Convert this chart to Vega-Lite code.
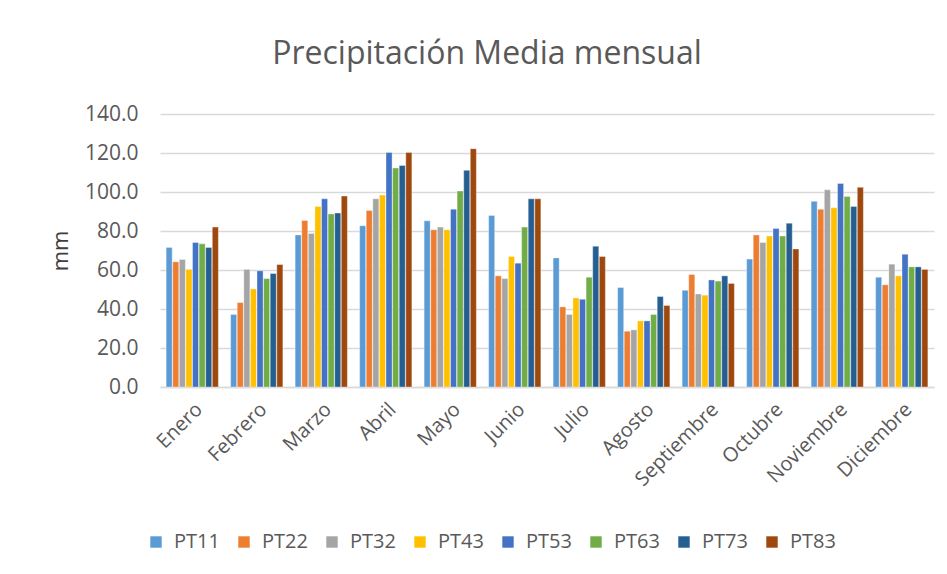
{
  "$schema": "https://vega.github.io/schema/vega-lite/v6.json",
  "width": 774,
  "height": 273,
  "autosize": {"type": "none"},
  "padding": {"left": 160, "top": 114, "right": 13, "bottom": 187},
  "background": "white",
  "config": {
    "font": "Open Sans",
    "view": {"stroke": null},
    "axis": {"labelColor": "#595959", "titleColor": "#595959", "labelFont": "Open Sans", "titleFont": "Open Sans"}
  },
  "title": {
    "text": "Precipitación Media mensual",
    "fontSize": 32,
    "font": "Open Sans",
    "fontWeight": "normal",
    "color": "#595959",
    "anchor": "middle",
    "dx": -60,
    "offset": 32
  },
  "data": {
    "values": [
      {"mes": "Enero", "estacion": "PT11", "valor": 71.6},
      {"mes": "Enero", "estacion": "PT22", "valor": 64.2},
      {"mes": "Enero", "estacion": "PT32", "valor": 65.4},
      {"mes": "Enero", "estacion": "PT43", "valor": 60.3},
      {"mes": "Enero", "estacion": "PT53", "valor": 74.1},
      {"mes": "Enero", "estacion": "PT63", "valor": 73.4},
      {"mes": "Enero", "estacion": "PT73", "valor": 71.6},
      {"mes": "Enero", "estacion": "PT83", "valor": 82.0},
      {"mes": "Febrero", "estacion": "PT11", "valor": 37.2},
      {"mes": "Febrero", "estacion": "PT22", "valor": 43.3},
      {"mes": "Febrero", "estacion": "PT32", "valor": 60.3},
      {"mes": "Febrero", "estacion": "PT43", "valor": 50.3},
      {"mes": "Febrero", "estacion": "PT53", "valor": 59.6},
      {"mes": "Febrero", "estacion": "PT63", "valor": 55.6},
      {"mes": "Febrero", "estacion": "PT73", "valor": 58.2},
      {"mes": "Febrero", "estacion": "PT83", "valor": 62.8},
      {"mes": "Marzo", "estacion": "PT11", "valor": 78.0},
      {"mes": "Marzo", "estacion": "PT22", "valor": 85.4},
      {"mes": "Marzo", "estacion": "PT32", "valor": 78.7},
      {"mes": "Marzo", "estacion": "PT43", "valor": 92.6},
      {"mes": "Marzo", "estacion": "PT53", "valor": 96.5},
      {"mes": "Marzo", "estacion": "PT63", "valor": 88.7},
      {"mes": "Marzo", "estacion": "PT73", "valor": 89.2},
      {"mes": "Marzo", "estacion": "PT83", "valor": 97.9},
      {"mes": "Abril", "estacion": "PT11", "valor": 82.7},
      {"mes": "Abril", "estacion": "PT22", "valor": 90.5},
      {"mes": "Abril", "estacion": "PT32", "valor": 96.5},
      {"mes": "Abril", "estacion": "PT43", "valor": 98.4},
      {"mes": "Abril", "estacion": "PT53", "valor": 120.3},
      {"mes": "Abril", "estacion": "PT63", "valor": 112.3},
      {"mes": "Abril", "estacion": "PT73", "valor": 113.6},
      {"mes": "Abril", "estacion": "PT83", "valor": 120.3},
      {"mes": "Mayo", "estacion": "PT11", "valor": 85.2},
      {"mes": "Mayo", "estacion": "PT22", "valor": 80.6},
      {"mes": "Mayo", "estacion": "PT32", "valor": 82.0},
      {"mes": "Mayo", "estacion": "PT43", "valor": 80.6},
      {"mes": "Mayo", "estacion": "PT53", "valor": 91.2},
      {"mes": "Mayo", "estacion": "PT63", "valor": 100.5},
      {"mes": "Mayo", "estacion": "PT73", "valor": 111.1},
      {"mes": "Mayo", "estacion": "PT83", "valor": 122.2},
      {"mes": "Junio", "estacion": "PT11", "valor": 88.0},
      {"mes": "Junio", "estacion": "PT22", "valor": 57.0},
      {"mes": "Junio", "estacion": "PT32", "valor": 55.6},
      {"mes": "Junio", "estacion": "PT43", "valor": 66.9},
      {"mes": "Junio", "estacion": "PT53", "valor": 63.5},
      {"mes": "Junio", "estacion": "PT63", "valor": 82.0},
      {"mes": "Junio", "estacion": "PT73", "valor": 96.5},
      {"mes": "Junio", "estacion": "PT83", "valor": 96.5},
      {"mes": "Julio", "estacion": "PT11", "valor": 66.2},
      {"mes": "Julio", "estacion": "PT22", "valor": 41.1},
      {"mes": "Julio", "estacion": "PT32", "valor": 37.2},
      {"mes": "Julio", "estacion": "PT43", "valor": 45.7},
      {"mes": "Julio", "estacion": "PT53", "valor": 45.0},
      {"mes": "Julio", "estacion": "PT63", "valor": 56.3},
      {"mes": "Julio", "estacion": "PT73", "valor": 72.2},
      {"mes": "Julio", "estacion": "PT83", "valor": 66.9},
      {"mes": "Agosto", "estacion": "PT11", "valor": 51.0},
      {"mes": "Agosto", "estacion": "PT22", "valor": 28.6},
      {"mes": "Agosto", "estacion": "PT32", "valor": 29.3},
      {"mes": "Agosto", "estacion": "PT43", "valor": 33.9},
      {"mes": "Agosto", "estacion": "PT53", "valor": 33.9},
      {"mes": "Agosto", "estacion": "PT63", "valor": 37.2},
      {"mes": "Agosto", "estacion": "PT73", "valor": 46.4},
      {"mes": "Agosto", "estacion": "PT83", "valor": 41.8},
      {"mes": "Septiembre", "estacion": "PT11", "valor": 49.6},
      {"mes": "Septiembre", "estacion": "PT22", "valor": 57.7},
      {"mes": "Septiembre", "estacion": "PT32", "valor": 47.7},
      {"mes": "Septiembre", "estacion": "PT43", "valor": 47.1},
      {"mes": "Septiembre", "estacion": "PT53", "valor": 54.9},
      {"mes": "Septiembre", "estacion": "PT63", "valor": 54.3},
      {"mes": "Septiembre", "estacion": "PT73", "valor": 57.0},
      {"mes": "Septiembre", "estacion": "PT83", "valor": 53.1},
      {"mes": "Octubre", "estacion": "PT11", "valor": 65.6},
      {"mes": "Octubre", "estacion": "PT22", "valor": 78.0},
      {"mes": "Octubre", "estacion": "PT32", "valor": 74.1},
      {"mes": "Octubre", "estacion": "PT43", "valor": 77.4},
      {"mes": "Octubre", "estacion": "PT53", "valor": 81.3},
      {"mes": "Octubre", "estacion": "PT63", "valor": 77.4},
      {"mes": "Octubre", "estacion": "PT73", "valor": 84.0},
      {"mes": "Octubre", "estacion": "PT83", "valor": 70.8},
      {"mes": "Noviembre", "estacion": "PT11", "valor": 95.2},
      {"mes": "Noviembre", "estacion": "PT22", "valor": 91.2},
      {"mes": "Noviembre", "estacion": "PT32", "valor": 101.1},
      {"mes": "Noviembre", "estacion": "PT43", "valor": 91.9},
      {"mes": "Noviembre", "estacion": "PT53", "valor": 104.4},
      {"mes": "Noviembre", "estacion": "PT63", "valor": 97.7},
      {"mes": "Noviembre", "estacion": "PT73", "valor": 92.6},
      {"mes": "Noviembre", "estacion": "PT83", "valor": 102.4},
      {"mes": "Diciembre", "estacion": "PT11", "valor": 56.3},
      {"mes": "Diciembre", "estacion": "PT22", "valor": 52.4},
      {"mes": "Diciembre", "estacion": "PT32", "valor": 63.0},
      {"mes": "Diciembre", "estacion": "PT43", "valor": 57.0},
      {"mes": "Diciembre", "estacion": "PT53", "valor": 68.1},
      {"mes": "Diciembre", "estacion": "PT63", "valor": 61.6},
      {"mes": "Diciembre", "estacion": "PT73", "valor": 61.6},
      {"mes": "Diciembre", "estacion": "PT83", "valor": 60.3}
    ]
  },
  "mark": {"type": "bar", "stroke": "white", "strokeWidth": 0.6, "strokeOpacity": 0.6},
  "encoding": {
    "x": {
      "field": "mes",
      "type": "nominal",
      "sort": null,
      "scale": {"paddingInner": 0.19, "paddingOuter": 0.095},
      "axis": {
        "title": null,
        "labelAngle": -45,
        "labelFontSize": 20,
        "labelPadding": 12,
        "ticks": false,
        "domainColor": "#d9d9d9",
        "domainWidth": 1.5,
        "grid": false
      }
    },
    "xOffset": {"field": "estacion", "type": "nominal", "sort": null, "scale": {"paddingInner": 0.08}},
    "y": {
      "field": "valor",
      "type": "quantitative",
      "scale": {"domain": [0, 140], "nice": false},
      "axis": {
        "title": "mm",
        "titleFontSize": 22,
        "titleFontWeight": "normal",
        "titleColor": "#404040",
        "titlePadding": 12,
        "labelFontSize": 21,
        "labelPadding": 22,
        "format": ".1f",
        "values": [0, 20, 40, 60, 80, 100, 120, 140],
        "ticks": false,
        "domain": false,
        "gridColor": "#d9d9d9",
        "gridWidth": 1.5
      }
    },
    "color": {
      "field": "estacion",
      "type": "nominal",
      "sort": null,
      "scale": {
        "domain": ["PT11", "PT22", "PT32", "PT43", "PT53", "PT63", "PT73", "PT83"],
        "range": ["#5B9BD5", "#ED7D31", "#A5A5A5", "#FFC000", "#4472C4", "#70AD47", "#255E91", "#9E480E"]
      },
      "legend": {
        "title": null,
        "orient": "none",
        "direction": "horizontal",
        "legendX": -14,
        "legendY": 418,
        "symbolType": "square",
        "symbolSize": 130,
        "symbolStrokeWidth": 0,
        "labelFontSize": 20,
        "labelColor": "#595959",
        "labelOffset": 8,
        "columnPadding": 14
      }
    }
  }
}
